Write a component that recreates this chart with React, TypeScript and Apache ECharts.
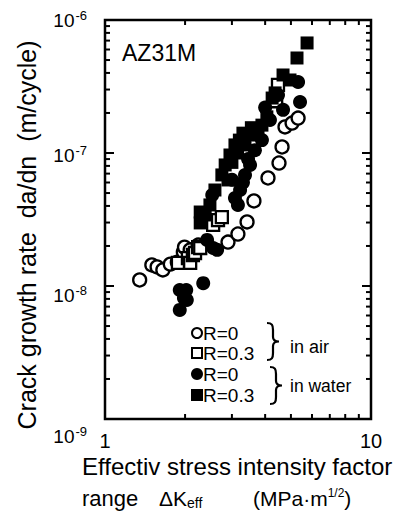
import React, { useEffect, useRef } from "react";
import * as echarts from "echarts";

const FONT = "Liberation Sans, Arial, sans-serif";

const xTickLabels = ["1", "10"];
const yTickExponents = [-9, -8, -7, -6];

// Air, R=0 (open circles)
const airR0: [number, number][] = [
  [1.35, 1.11e-8], [1.5, 1.44e-8], [1.57, 1.39e-8], [1.65, 1.32e-8], [1.76, 1.46e-8],
  [1.87, 1.51e-8], [1.97, 1.8e-8], [1.99, 1.96e-8], [2.09, 1.87e-8], [2.24, 2.03e-8],
  [2.9, 2.14e-8], [3.16, 2.46e-8], [3.42, 3.03e-8], [3.63, 4.36e-8], [4.1, 6.49e-8],
  [4.51, 8.41e-8], [4.63, 1.11e-7], [4.75, 1.57e-7], [5.05, 1.68e-7], [5.32, 1.83e-7],
];

// Air, R=0.3 (open squares)
const airR03: [number, number][] = [
  [1.88, 1.49e-8], [2.05, 1.62e-8], [2.09, 1.49e-8], [2.14, 1.71e-8], [2.18, 1.77e-8],
  [2.24, 1.96e-8], [2.28, 1.93e-8], [2.55, 2.88e-8], [2.66, 3.13e-8], [2.75, 3.3e-8],
  [4.4, 2.45e-7], [4.47, 3.25e-7],
];

// Water, R=0 (filled circles)
const waterR0: [number, number][] = [
  [1.91, 9.33e-9], [2.02, 9.33e-9], [2.34, 1.05e-8], [2.03, 7.85e-9], [1.91, 6.61e-9],
  [1.98, 8.13e-9], [2.42, 2.22e-8], [2.55, 1.93e-8], [2.64, 1.87e-8], [2.53, 4.83e-8],
  [3.08, 4.59e-8], [3.16, 4.07e-8], [3.22, 5.27e-8], [3.0, 6.3e-8], [3.3, 6.0e-8],
  [3.36, 6.84e-8], [3.45, 9.0e-8], [3.51, 8.13e-8], [3.66, 1.05e-7], [3.66, 1.49e-7],
  [3.89, 1.25e-7], [4.0, 2.2e-7], [4.17, 1.77e-7], [4.47, 2.73e-7], [4.67, 2.11e-7],
  [5.32, 3.42e-7], [5.41, 2.42e-7],
];

// Water, R=0.3 (filled squares)
const waterR03: [number, number][] = [
  [2.28, 2.98e-8], [2.28, 3.6e-8], [2.38, 3.42e-8], [2.48, 4.07e-8], [2.59, 5.27e-8],
  [2.75, 6.84e-8], [2.83, 8.13e-8], [2.9, 6.27e-8], [2.95, 9.66e-8], [3.0, 8.5e-8],
  [3.08, 1.15e-7], [3.15, 1.0e-7], [3.2, 1.25e-7], [3.3, 1.41e-7], [3.36, 1.15e-7],
  [3.51, 1.37e-7], [3.55, 1.55e-7], [3.76, 1.37e-7], [3.89, 1.62e-7], [4.06, 1.87e-7],
  [4.25, 2.59e-7], [4.36, 2.83e-7], [4.67, 3.86e-7], [4.96, 3.54e-7], [5.27, 5.18e-7],
  [5.75, 6.72e-7],
];

const xMin = 1, xMax = 10, yMin = 1e-9, yMax = 1e-6;
const minorX = [2, 3, 4, 5, 6, 7, 8, 9];
const minorY = [-9, -8, -7].flatMap((e) => [2, 3, 4, 5, 6, 7, 8, 9].map((m) => m * Math.pow(10, e)));
const majorY = [1e-8, 1e-7];

// downward offset (px) of each y tick label, as placed in the reference
const yLabelShift: Record<string, number> = { "-6": 0, "-7": 2, "-8": 9, "-9": 17 };

export default function App() {
  const ref = useRef<HTMLDivElement>(null);
  useEffect(() => {
    const braceD =
      "M0,0 C5,0 6,2 6,7 L6,14 C6,17 8,18.5 12,18.5 C8,18.5 6,20 6,23 L6,30 C6,35 5,37 0,37";
    echarts.graphic.registerShape("brace", echarts.graphic.extendPath(braceD, {}));
    const chart = echarts.init(ref.current!, null, { renderer: "svg" });

    const tickData: number[][] = [
      ...minorX.map((v) => [v, 1e-8, 0, 5]),
      ...minorY.map((v) => [2, v, 1, 5]),
      ...majorY.map((v) => [2, v, 1, 9]),
    ];

    const lineStyle = { stroke: "#000", lineWidth: 2 };

    const yRich: any = {
      b: { fontSize: 19, fontFamily: FONT, color: "#000" },
      s: { fontSize: 13, fontFamily: FONT, color: "#000", padding: [0, 0, 10, 1] },
    };
    Object.keys(yLabelShift).forEach((k) => {
      const d = yLabelShift[k];
      if (d > 0) yRich["g" + d] = { height: 2 * d, fontSize: 1, lineHeight: 2 * d };
    });

    const option: any = {
      animation: false,
      backgroundColor: "#fff",
      grid: {
        left: 105, top: 20, width: 266, height: 399,
        show: true, borderColor: "#000", borderWidth: 2.5, backgroundColor: "transparent",
      },
      xAxis: {
        type: "log", min: xMin, max: xMax, logBase: 10, splitNumber: 1,
        axisLine: { show: false }, axisTick: { show: false }, splitLine: { show: false },
        axisLabel: {
          color: "#000", fontSize: 20, fontFamily: FONT, margin: 12,
          formatter: (v: number) => xTickLabels[Math.round(Math.log10(v))] ?? "",
        },
      },
      yAxis: {
        type: "log", min: yMin, max: yMax, logBase: 10,
        axisLine: { show: false }, axisTick: { show: false }, splitLine: { show: false },
        axisLabel: {
          color: "#000", fontFamily: FONT, margin: 18,
          formatter: (v: number) => {
            const e = Math.round(Math.log10(v));
            if (!yTickExponents.includes(e)) return "";
            const d = yLabelShift[String(e)] || 0;
            const body = `{b|10}{s|${e}}`;
            return d > 0 ? `{g${d}| }\n${body}` : body;
          },
          rich: yRich,
        },
      },
      series: [
        {
          type: "custom",
          silent: true,
          data: tickData,
          encode: { x: 0, y: 1 },
          renderItem: (params: any, api: any) => {
            const kind = api.value(2);
            const len = api.value(3);
            if (kind === 0) {
              const v = api.value(0);
              const t = api.coord([v, yMax]);
              const b = api.coord([v, yMin]);
              return {
                type: "group",
                children: [
                  { type: "line", shape: { x1: t[0], y1: t[1], x2: t[0], y2: t[1] + len }, style: lineStyle },
                  { type: "line", shape: { x1: b[0], y1: b[1], x2: b[0], y2: b[1] - len }, style: lineStyle },
                ],
              };
            }
            const v = api.value(1);
            const l = api.coord([xMin, v]);
            const r = api.coord([xMax, v]);
            return {
              type: "group",
              children: [
                { type: "line", shape: { x1: l[0], y1: l[1], x2: l[0] + len, y2: l[1] }, style: lineStyle },
                { type: "line", shape: { x1: r[0], y1: r[1], x2: r[0] - len, y2: r[1] }, style: lineStyle },
              ],
            };
          },
        },
        {
          name: "air R=0", type: "scatter", data: airR0, symbol: "circle", symbolSize: 13,
          itemStyle: { color: "#fff", borderColor: "#000", borderWidth: 2.3, opacity: 1 },
        },
        {
          name: "air R=0.3", type: "scatter", data: airR03, symbol: "rect", symbolSize: 12,
          itemStyle: { color: "#fff", borderColor: "#000", borderWidth: 2.3, opacity: 1 },
        },
        {
          name: "water R=0", type: "scatter", data: waterR0, symbol: "circle", symbolSize: 14,
          itemStyle: { color: "#000", opacity: 1 },
        },
        {
          name: "water R=0.3", type: "scatter", data: waterR03, symbol: "rect", symbolSize: 13,
          itemStyle: { color: "#000", opacity: 1 },
        },
      ],
      graphic: [
        {
          type: "text", x: 122, y: 53,
          style: { text: "AZ31M", font: `23px ${FONT}`, fill: "#000", textVerticalAlign: "middle" },
        },
        {
          type: "text", x: 27, y: 235, rotation: Math.PI / 2,
          style: {
            text: "Crack growth rate  da/dn  (m/cycle)", font: `25px ${FONT}`, fill: "#000",
            textAlign: "center", textVerticalAlign: "middle",
          },
        },
        {
          type: "text", x: 82, y: 466,
          style: { text: "Effectiv stress intensity factor", font: `24px ${FONT}`, fill: "#000", textVerticalAlign: "middle" },
        },
        {
          type: "text", x: 82, y: 498,
          style: { text: "range", font: `22px ${FONT}`, fill: "#000", textVerticalAlign: "middle" },
        },
        {
          type: "text", x: 159, y: 498,
          style: {
            text: "ΔK{s|eff}", fill: "#000", textVerticalAlign: "middle", font: `21px ${FONT}`,
            rich: { s: { fontSize: 14, fontFamily: FONT, padding: [10, 0, 0, 0] } },
          },
        },
        {
          type: "text", x: 253, y: 498,
          style: {
            text: "(MPa·m{s|1/2})", fill: "#000", textVerticalAlign: "middle", font: `21px ${FONT}`,
            rich: { s: { fontSize: 12, fontFamily: FONT, padding: [0, 0, 10, 0] } },
          },
        },
        // legend
        { type: "circle", shape: { cx: 197, cy: 333, r: 5 }, style: { fill: "#fff", stroke: "#000", lineWidth: 2 } },
        { type: "rect", shape: { x: 192, y: 348, width: 10, height: 10 }, style: { fill: "#fff", stroke: "#000", lineWidth: 2 } },
        { type: "circle", shape: { cx: 197, cy: 374, r: 6 }, style: { fill: "#000" } },
        { type: "rect", shape: { x: 191, y: 389, width: 12, height: 12 }, style: { fill: "#000" } },
        { type: "text", x: 203, y: 333, style: { text: "R=0", font: `19px ${FONT}`, fill: "#000", textVerticalAlign: "middle" } },
        { type: "text", x: 203, y: 353, style: { text: "R=0.3", font: `19px ${FONT}`, fill: "#000", textVerticalAlign: "middle" } },
        { type: "text", x: 203, y: 374, style: { text: "R=0", font: `19px ${FONT}`, fill: "#000", textVerticalAlign: "middle" } },
        { type: "text", x: 203, y: 395, style: { text: "R=0.3", font: `19px ${FONT}`, fill: "#000", textVerticalAlign: "middle" } },
        { type: "brace", x: 267, y: 323, style: { stroke: "#000", fill: "none", lineWidth: 2.2 } },
        { type: "brace", x: 270, y: 367, style: { stroke: "#000", fill: "none", lineWidth: 2.2 } },
        { type: "text", x: 290, y: 347, style: { text: "in air", font: `18px ${FONT}`, fill: "#000", textVerticalAlign: "middle" } },
        { type: "text", x: 290, y: 386, style: { text: "in water", font: `17.5px ${FONT}`, fill: "#000", textVerticalAlign: "middle" } },
      ],
    };
    chart.setOption(option);
    return () => chart.dispose();
  }, []);
  return (
    <div
      ref={ref}
      style={{ position: "fixed", left: 0, top: 0, width: 405, height: 514, background: "#fff" }}
    />
  );
}
